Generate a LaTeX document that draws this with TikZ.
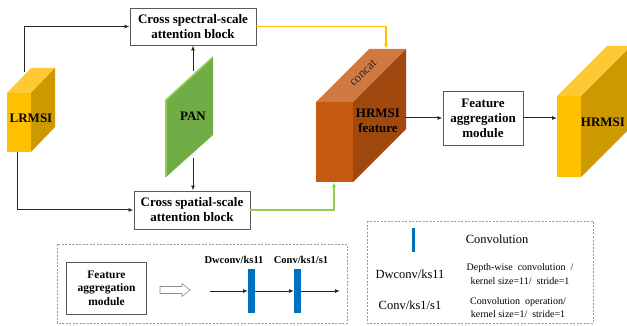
\documentclass[tikz,border=0pt]{standalone}
\usepackage{fontspec}
\setmainfont{Liberation Serif}
\usetikzlibrary{arrows.meta}

\definecolor{goldF}{HTML}{FFC000}
\definecolor{goldS}{HTML}{CC9A00}
\definecolor{goldT}{HTML}{FFC933}
\definecolor{rustF}{HTML}{C55A11}
\definecolor{rustS}{HTML}{A0480E}
\definecolor{rustT}{HTML}{D07A42}
\definecolor{panF}{HTML}{70AD47}
\definecolor{panE}{HTML}{92D050}
\definecolor{convB}{HTML}{0070C0}
\definecolor{lineK}{HTML}{262626}
\definecolor{boxK}{HTML}{595959}

\tikzset{
  blockbox/.style={draw=boxK, line width=0.9pt, fill=white, align=center,
    font=\fontsize{13}{15}\selectfont\bfseries, inner sep=0pt},
  flow/.style={draw=lineK, line width=1pt, -{Latex[length=5pt,width=4pt]}},
  legendframe/.style={draw=black!40, dash pattern=on 2pt off 1.5pt, line width=0.6pt},
  bigtxt/.style={font=\fontsize{13}{15}\selectfont\bfseries, align=center, inner sep=0pt},
  legtxt/.style={font=\fontsize{12.5}{14.5}\selectfont, align=center, inner sep=0pt},
  smalltxt/.style={font=\fontsize{10}{13.5}\selectfont, align=center, inner sep=0pt},
}

\begin{document}
\begin{tikzpicture}[x=1pt, y=-1pt]
\useasboundingbox (0,0) rectangle (627,326);

% ---------- LRMSI cuboid ----------
\fill[goldT] (7,93) -- (31,93) -- (55,68) -- (31,68) -- cycle;
\fill[goldS] (31,93) -- (55,68) -- (55,127) -- (31,152) -- cycle;
\fill[goldF] (7,93) rectangle (31,152);
\node[bigtxt] (lrmsi) at (31,118) {LRMSI};
\coordinate (lrUp) at (24,72);
\coordinate (lrDown) at (17,152);

% ---------- PAN plate ----------
\fill[panF] (166,100) -- (213,57) -- (213,135) -- (166,177) -- cycle;
\draw[panE, line width=1.6pt, line join=round] (166,177) -- (166,100) -- (213,57);
\node[bigtxt] (pan) at (193,116) {PAN};
\coordinate (panUp) at (193,71);
\coordinate (panDown) at (193,158);

% ---------- attention blocks ----------
\node[blockbox, minimum width=126pt, minimum height=37pt] (spec) at (193,26.5)
  {Cross spectral-scale\\attention block};
\node[blockbox, minimum width=116pt, minimum height=38pt] (spat) at (192,210)
  {Cross spatial-scale\\attention block};

% ---------- concat cuboid ----------
\fill[rustT] (316,102) -- (353,102) -- (406,49) -- (369,49) -- cycle;
\fill[rustS] (353,102) -- (406,49) -- (406,129) -- (353,182) -- cycle;
\fill[rustF] (316,102) rectangle (353,182);
\node[font=\fontsize{12.5}{14}\selectfont, text=black!85, rotate=45, inner sep=0pt]
  (concat) at (363,73) {concat};
\node[bigtxt] (hrfeat) at (378,121) {HRMSI\\feature};
\coordinate (catTop) at (386,49);
\coordinate (catBot) at (334,182);
\coordinate (catOut) at (405,118);

% ---------- feature aggregation ----------
\node[blockbox, minimum width=80pt, minimum height=54pt] (fam) at (483,118)
  {Feature\\aggregation\\module};

% ---------- HRMSI cuboid ----------
\fill[goldT] (557,96) -- (581,96) -- (631,46) -- (607,46) -- cycle;
\fill[goldS] (581,96) -- (631,46) -- (631,127) -- (581,177) -- cycle;
\fill[goldF] (557,96) rectangle (581,177);
\node[bigtxt] (hrmsi) at (603,122) {HRMSI};
\coordinate (hrIn) at (557,118);

% ---------- connectors ----------
\draw[flow] (lrUp) |- (spec.west);
\draw[flow] (lrDown) |- (spat.west);
\draw[flow] (panUp) -- (panUp |- spec.south);
\draw[flow] (panDown) -- (panDown |- spat.north);
\draw[flow, draw=goldF, line width=1.4pt] (spec.east) -| (catTop);
\draw[flow, draw=panE, line width=1.4pt] (spat.east) -| (catBot);
\draw[flow] (catOut) -- (fam.west);
\draw[flow] (fam.east) -- (hrIn);

% ---------- legend: feature aggregation module ----------
\draw[legendframe] (57,244) rectangle (347,323);
\node[blockbox, minimum width=80pt, minimum height=52pt,
  font=\fontsize{11.5}{13.5}\selectfont\bfseries] (famL) at (106.5,288)
  {Feature\\aggregation\\module};
\draw[draw=black!45, fill=white, line width=0.6pt]
  (160,286.5) -- (182,286.5) -- (182,283.5) -- (190,290) -- (182,296.5)
  -- (182,293.5) -- (160,293.5) -- cycle;
\fill[convB] (248,269) rectangle (255,313);
\fill[convB] (294,269) rectangle (301,313);
\coordinate (famIn) at (210,291);
\coordinate (famOut) at (340,291);
\coordinate (bar1L) at (248,291);
\coordinate (bar1R) at (255,291);
\coordinate (bar2L) at (294,291);
\coordinate (bar2R) at (301,291);
\draw[flow] (famIn) -- (bar1L);
\draw[flow] (bar1R) -- (bar2L);
\draw[flow] (bar2R) -- (famOut);
\node[font=\fontsize{10.5}{12}\selectfont\bfseries, inner sep=0pt] (dwL) at (234,260) {Dwconv/ks11};
\node[font=\fontsize{10.5}{12}\selectfont\bfseries, inner sep=0pt] (cvL) at (301,260) {Conv/ks1/s1};

% ---------- legend: operations ----------
\draw[legendframe] (367,221) rectangle (593,323);
\fill[convB] (411.5,228) rectangle (415,252);
\node[legtxt] (convKey) at (497,239) {Convolution};
\node[legtxt] (dwKey) at (410,274) {Dwconv/ks11};
\node[smalltxt] (dwDesc) at (520,274) {Depth-wise\ \ convolution\ \ /\\kernel\ size=11/\ \ stride=1};
\node[legtxt] (cvKey) at (410,305) {Conv/ks1/s1};
\node[smalltxt] (cvDesc) at (518,307.5) {Convolution\ \ operation/\\kernel\ size=1/\ \ stride=1};
\end{tikzpicture}
\end{document}
